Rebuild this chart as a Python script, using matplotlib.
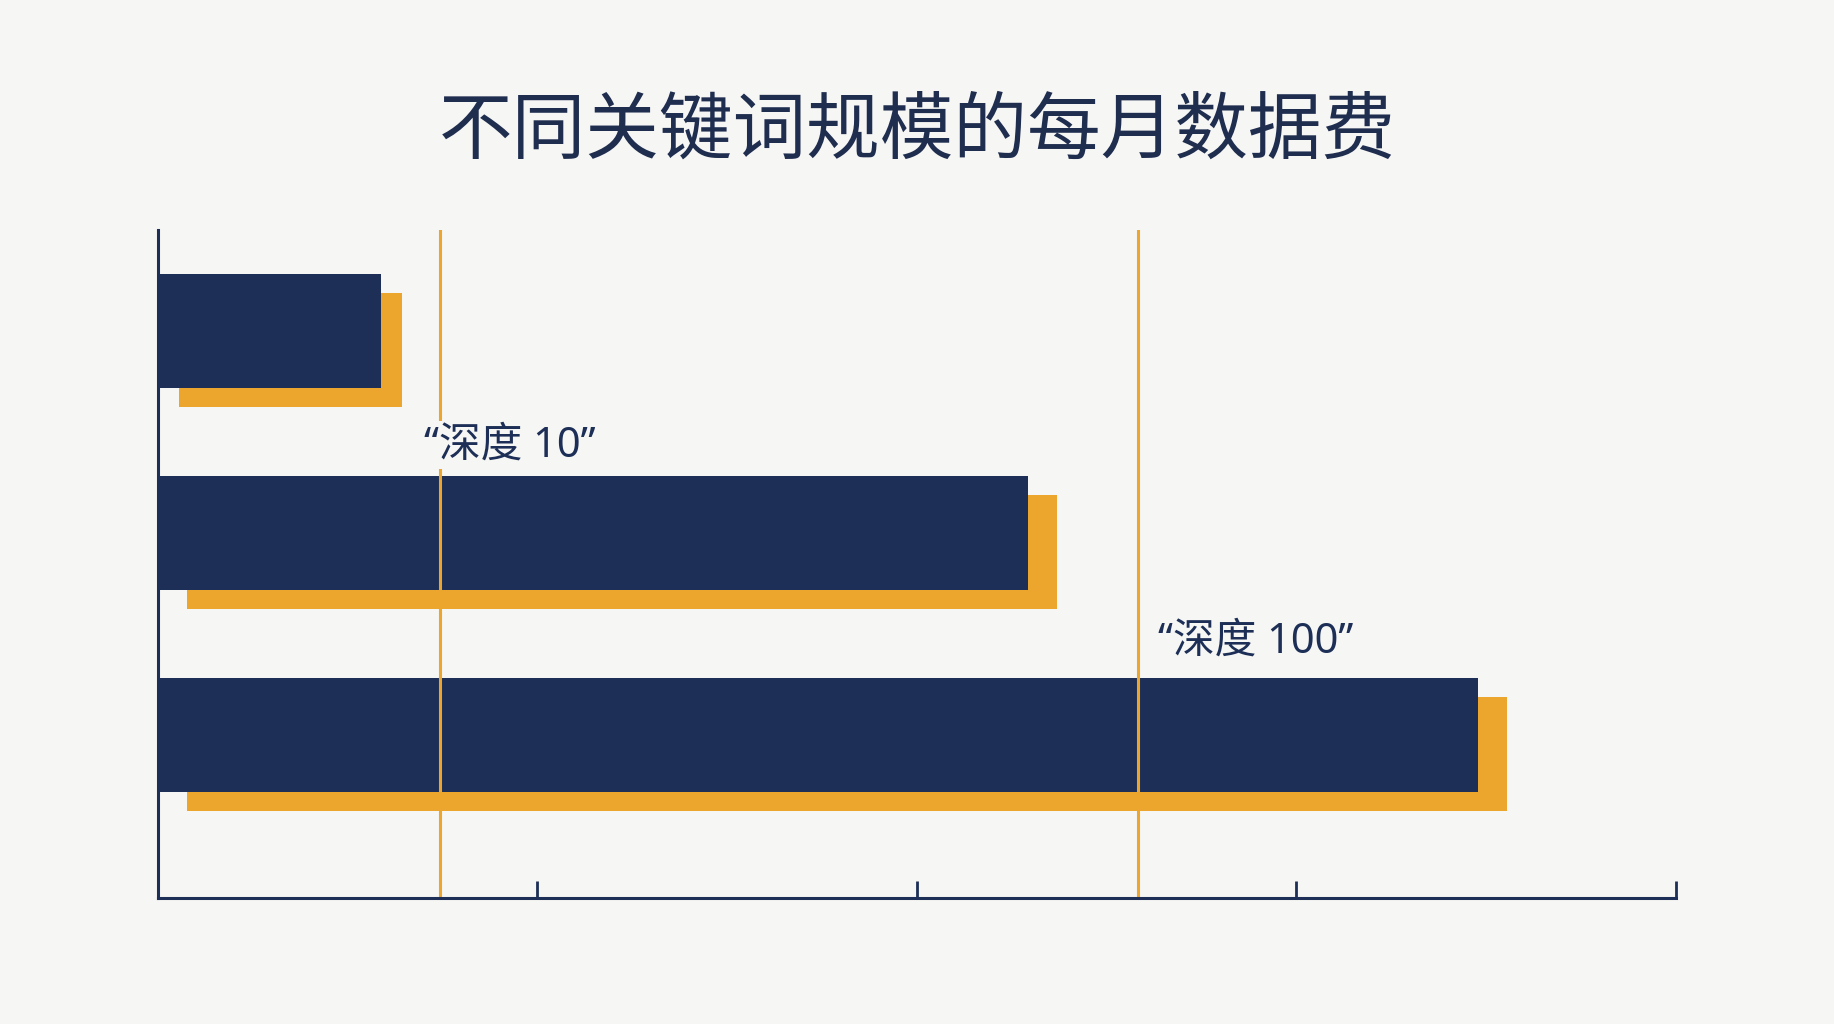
import matplotlib
matplotlib.use("Agg")
import matplotlib.pyplot as plt

plt.rcParams['font.family'] = ['Noto Sans', 'Noto Sans CJK SC', 'DejaVu Sans']

# data (x in tick units, 0..4)
title = '不同关键词规模的每月数据费'
rows = [0, 1, 2]
values = [0.589, 2.293, 3.479]
shadow_left = [0.055, 0.077, 0.077]
depth_x = [0.743, 2.582]
depth_labels = ['“深度 10”', '“深度 100”']
ticks = [1, 2, 3, 4]

navy = '#1d2f56'
orange = '#eca62d'
bg = '#f6f6f4'

fig = plt.figure(figsize=(18.34, 10.24), dpi=100)
fig.patch.set_facecolor(bg)
ax = fig.add_axes([0.0861, 0.123, 0.8277, 0.6523])
ax.set_facecolor(bg)

# shadows first, then navy bars on top
shadow_dy = 0.093
bar_h = 0.565
ax.barh([r + shadow_dy for r in rows], values, left=shadow_left, height=bar_h,
        color=orange, zorder=2)
ax.barh(rows, values, height=bar_h, color=navy, zorder=3)

for x in depth_x:
    ax.axvline(x, color=orange, lw=2.2, zorder=4)

ax.text(0.700, 0.565, depth_labels[0], fontsize=30, color=navy, va='center', ha='left',
        zorder=5, bbox=dict(facecolor=bg, edgecolor='none', pad=2))
ax.text(2.635, 1.535, depth_labels[1], fontsize=30, color=navy, va='center', ha='left',
        zorder=5)

ax.set_xlim(0, 4)
ax.set_ylim(2.806, -0.501)
ax.set_xticks(ticks)
ax.set_xticklabels([])
ax.set_yticks([])
ax.tick_params(axis='x', direction='in', length=12, width=2, color=navy)
for s in ['top', 'right']:
    ax.spines[s].set_visible(False)
for s in ['left', 'bottom']:
    ax.spines[s].set_color(navy)
    ax.spines[s].set_linewidth(2.2)
    ax.spines[s].set_zorder(6)

fig.text(0.5, 0.871, title, fontsize=53, color='#1f2d4f', ha='center', va='center',
         family=['Noto Sans CJK SC', 'DejaVu Sans'], weight='medium')

fig.savefig('out.png', dpi=100, facecolor=bg)
